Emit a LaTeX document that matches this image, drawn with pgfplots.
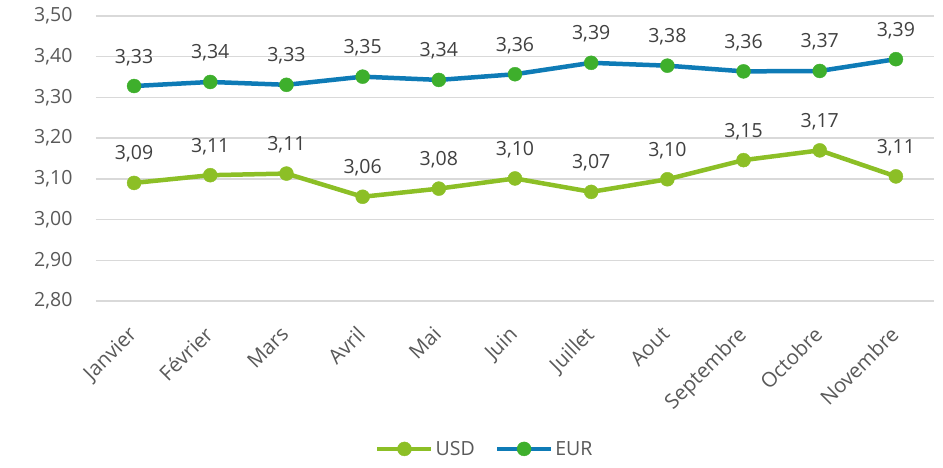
\documentclass[border=0pt]{standalone}
\usepackage{pgfplots}
\usepackage{pgfplotstable}
\pgfplotsset{compat=1.18}
\usepackage{fontspec}
\setmainfont{Open Sans}
\definecolor{eurblue}{HTML}{0E7BB6}
\definecolor{eurmark}{HTML}{3EAF2C}
\definecolor{usdgreen}{HTML}{8CBF26}
\definecolor{gridgray}{HTML}{D9D9D9}
\definecolor{ticktext}{HTML}{595959}
\definecolor{labtext}{HTML}{404040}
\pgfplotstableread{
x eur eurl usd usdl
0 3.328 3,33 3.090 3,09
1 3.338 3,34 3.109 3,11
2 3.331 3,33 3.113 3,11
3 3.351 3,35 3.056 3,06
4 3.343 3,34 3.076 3,08
5 3.357 3,36 3.101 3,10
6 3.385 3,39 3.068 3,07
7 3.378 3,38 3.099 3,10
8 3.364 3,36 3.146 3,15
9 3.365 3,37 3.170 3,17
10 3.394 3,39 3.106 3,11
}\data
\begin{document}
\begin{tikzpicture}
\path[use as bounding box] (-96pt,-167pt) rectangle (847pt,301pt);
\begin{axis}[
  at={(0,0)}, anchor=south west,
  scale only axis, width=838pt, height=285pt,
  xmin=-0.5, xmax=10.5, ymin=2.8, ymax=3.5,
  ytick={2.8,2.9,...,3.51},
  xtick={0,...,10},
  xticklabels={Janvier,Février,Mars,Avril,Mai,Juin,Juillet,Aout,Septembre,Octobre,Novembre},
  axis line style={draw=none},
  major tick length=0pt,
  ymajorgrids, grid style={gridgray, line width=1.5pt},
  /pgf/number format/assume math mode=true,
  yticklabel style={/pgf/number format/.cd, fixed, fixed zerofill, precision=2, use comma, /tikz/.cd,
     font=\fontsize{19.5}{23}\selectfont, text=ticktext, xshift=-20pt},
  xticklabel style={xshift=-7pt, yshift=-19pt, rotate=45, anchor=north east, font=\fontsize{20.5}{24}\selectfont, text=ticktext},
  legend columns=2,
  legend style={draw=none, at={(0.464,-0.519)}, anchor=center, font=\fontsize{19.5}{23}\selectfont, text=ticktext,
     /tikz/every even column/.append style={column sep=18pt}},
  legend image code/.code={\draw[mark repeat=2,mark phase=2,#1] plot coordinates {(0pt,0pt) (27pt,0pt) (54pt,0pt)};},
  nodes near coords,
  point meta=explicit symbolic,
  every node near coord/.append style={font=\fontsize{19.5}{23}\selectfont, text=labtext, anchor=base, yshift=23pt},
]
\addplot[usdgreen, line width=4.5pt, mark=*, mark size=7pt, mark options={solid, fill=usdgreen, draw=usdgreen, line width=0.4pt}] table[x=x, y=usd, meta=usdl] {\data};
\addlegendentry{USD}
\addplot[eurblue, line width=4.5pt, mark=*, mark size=7pt, mark options={solid, fill=eurmark, draw=eurmark, line width=0.4pt}] table[x=x, y=eur, meta=eurl] {\data};
\addlegendentry{EUR}
\end{axis}
\end{tikzpicture}
\end{document}
